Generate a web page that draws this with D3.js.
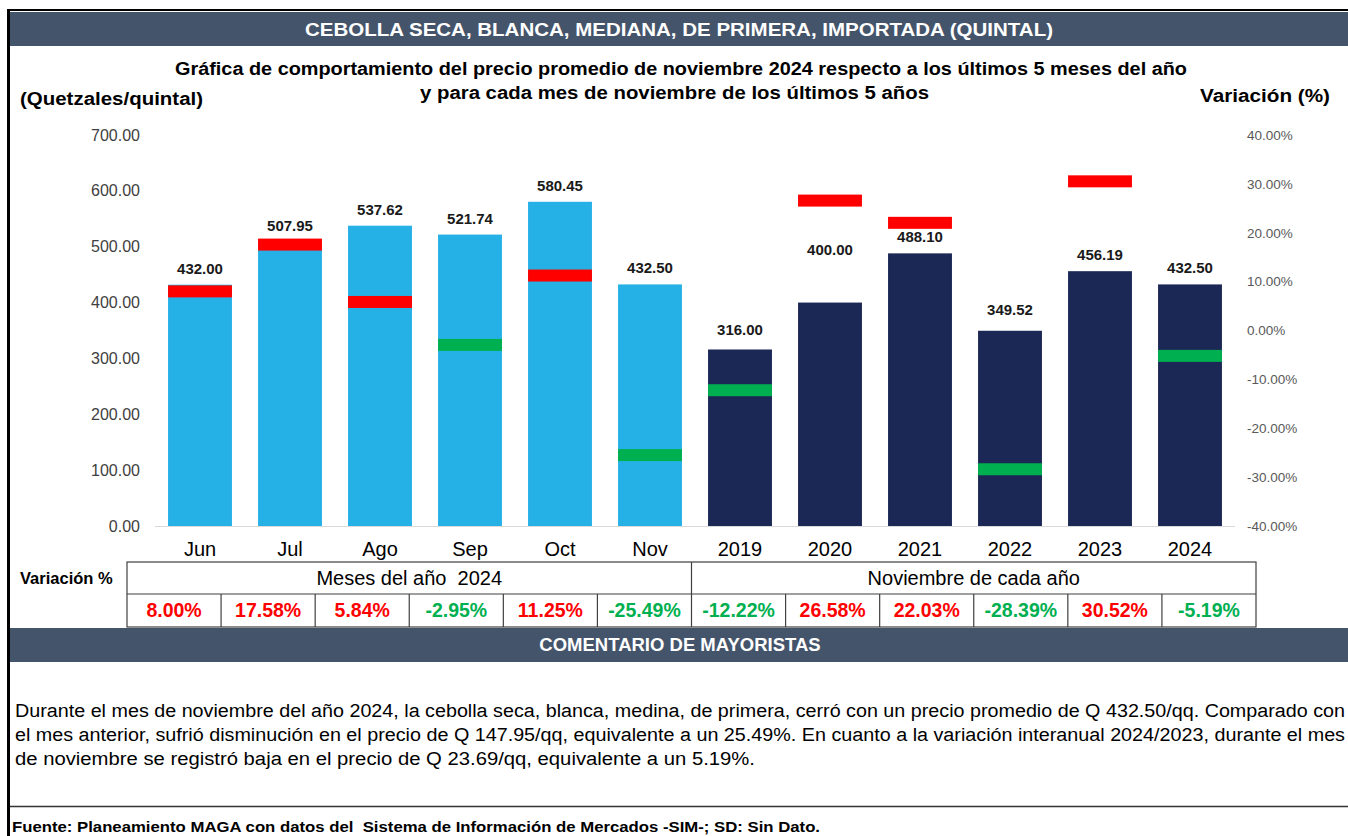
<!DOCTYPE html>
<html>
<head>
<meta charset="utf-8">
<style>
  body { margin: 0; background: #fff; }
  svg { display: block; font-family: "Liberation Sans", Arial, sans-serif; }
  svg text { white-space: pre; }
  .axis path, .axis line { display: none; }
</style>
<script src="https://cdn.jsdelivr.net/npm/d3@7"></script>
</head>
<body>
<svg id="chart" width="1348" height="836"></svg>
<script>
// datos
var categories = ["Jun", "Jul", "Ago", "Sep", "Oct", "Nov", "2019", "2020", "2021", "2022", "2023", "2024"];
var prices = [432.00, 507.95, 537.62, 521.74, 580.45, 432.50, 316.00, 400.00, 488.10, 349.52, 456.19, 432.50];
var variation = [8.00, 17.58, 5.84, -2.95, 11.25, -25.49, -12.22, 26.58, 22.03, -28.39, 30.52, -5.19];
var groups = ["Meses del año  2024", "Noviembre de cada año"];
var priceTicks = [0, 100, 200, 300, 400, 500, 600, 700];
var pctTicks = [-40, -30, -20, -10, 0, 10, 20, 30, 40];

var commentLines = [
  "Durante el mes de noviembre del año 2024, la cebolla seca, blanca, medina, de primera, cerró con un precio promedio de Q 432.50/qq. Comparado con",
  "el mes anterior, sufrió disminución en el precio de Q 147.95/qq, equivalente a un 25.49%. En cuanto a la variación interanual 2024/2023, durante el mes",
  "de noviembre se registró baja en el precio de Q 23.69/qq, equivalente a un 5.19%."
];
var commentWidths = [1330, 1330, 740];

var lightBlue = "#25B1E6", navy = "#1B2754", red = "#FF0000", green = "#00B050", slate = "#44546A";

var locale = d3.formatLocale({ decimal: ".", thousands: ",", grouping: [3], currency: ["", ""], minus: "-" });
var f2 = locale.format(".2f");

var svg = d3.select("#chart");

function fit(sel, w) {
  return sel.attr("textLength", w).attr("lengthAdjust", "spacingAndGlyphs");
}

// marco y bandas
svg.append("line").attr("x1", 8).attr("x2", 1348).attr("y1", 10).attr("y2", 10)
  .attr("stroke", "#000").attr("stroke-width", 2);
svg.append("line").attr("x1", 8.5).attr("x2", 8.5).attr("y1", 9).attr("y2", 836)
  .attr("stroke", "#000").attr("stroke-width", 3);

svg.append("rect").attr("x", 10).attr("y", 12).attr("width", 1338).attr("height", 34).attr("fill", slate);
fit(svg.append("text").attr("x", 679).attr("y", 36).attr("text-anchor", "middle")
  .attr("fill", "#fff").attr("font-weight", "bold").attr("font-size", 19)
  .text("CEBOLLA SECA, BLANCA, MEDIANA, DE PRIMERA, IMPORTADA (QUINTAL)"), 748);

fit(svg.append("text").attr("x", 681).attr("y", 75).attr("text-anchor", "middle")
  .attr("font-weight", "bold").attr("font-size", 18)
  .text("Gráfica de comportamiento del precio promedio de noviembre 2024 respecto a los últimos 5 meses del año"), 1012);
fit(svg.append("text").attr("x", 674.5).attr("y", 99).attr("text-anchor", "middle")
  .attr("font-weight", "bold").attr("font-size", 18)
  .text("y para cada mes de noviembre de los últimos 5 años"), 509);
fit(svg.append("text").attr("x", 20).attr("y", 105)
  .attr("font-weight", "bold").attr("font-size", 18).text("(Quetzales/quintal)"), 183);
fit(svg.append("text").attr("x", 1200).attr("y", 102)
  .attr("font-weight", "bold").attr("font-size", 18).text("Variación (%)"), 130);

// escalas
var x = d3.scaleBand().domain(categories).range([155, 1235]).paddingInner(0.29).paddingOuter(0.145);
var y = d3.scaleLinear().domain([0, 700]).range([526, 135]);
var y2 = d3.scaleLinear().domain([-40, 40]).range([526, 135]);

svg.append("g").attr("class", "axis").attr("transform", "translate(140,0)")
  .call(d3.axisLeft(y).tickValues(priceTicks).tickSize(0).tickPadding(0).tickFormat(f2))
  .selectAll("text").attr("font-size", 16).attr("fill", "#404040").attr("font-family", "Liberation Sans, Arial, sans-serif");

svg.append("g").attr("class", "axis").attr("transform", "translate(1247,0)")
  .call(d3.axisRight(y2).tickValues(pctTicks).tickSize(0).tickPadding(0)
    .tickFormat(function(d) { return f2(d) + "%"; }))
  .selectAll("text").attr("font-size", 13.5).attr("fill", "#595959").attr("font-family", "Liberation Sans, Arial, sans-serif");

// barras
svg.append("g").selectAll("rect").data(categories).join("rect")
  .attr("x", function(d) { return x(d); })
  .attr("y", function(d, i) { return y(prices[i]); })
  .attr("width", x.bandwidth())
  .attr("height", function(d, i) { return y(0) - y(prices[i]); })
  .attr("fill", function(d, i) { return i < 6 ? lightBlue : navy; });

svg.append("line").attr("x1", 155).attr("x2", 1235).attr("y1", 526.5).attr("y2", 526.5)
  .attr("stroke", "#D9D9D9").attr("stroke-width", 1);

// etiquetas de valor
var labelNudge = { "2019": 3, "2020": 37, "2022": 5 };
svg.append("g").selectAll("text").data(categories).join("text")
  .attr("x", function(d) { return x(d) + x.bandwidth() / 2; })
  .attr("y", function(d, i) { return y(prices[i]) - 11 - (labelNudge[d] || 0); })
  .attr("text-anchor", "middle").attr("font-weight", "bold").attr("font-size", 15)
  .attr("fill", "#1a1a1a")
  .text(function(d, i) { return f2(prices[i]); });

// marcadores de variación
svg.append("g").selectAll("rect").data(categories).join("rect")
  .attr("x", function(d) { return x(d); })
  .attr("y", function(d, i) { return y2(variation[i]) - 6; })
  .attr("width", x.bandwidth())
  .attr("height", 12)
  .attr("fill", function(d, i) { return variation[i] >= 0 ? red : green; });

// eje x
svg.append("g").attr("class", "axis").attr("transform", "translate(0,549)")
  .call(d3.axisBottom(x).tickSize(0).tickPadding(0))
  .selectAll("text").attr("font-size", 20).attr("fill", "#000").attr("dy", "0.35em")
  .attr("font-family", "Liberation Sans, Arial, sans-serif");

// tabla
var t = d3.scaleBand().domain(categories).range([127, 1256]);
var row1 = 562, row2 = 594, row3 = 627;
svg.append("text").attr("x", 20).attr("y", 584)
  .attr("font-weight", "bold").attr("font-size", 16.5).text("Variación %");

var tbl = svg.append("g").attr("stroke", "#404040").attr("stroke-width", 1.2).attr("fill", "none");
tbl.append("rect").attr("x", t.range()[0]).attr("y", row1).attr("width", t.range()[1] - t.range()[0]).attr("height", row3 - row1);
tbl.append("line").attr("x1", t.range()[0]).attr("x2", t.range()[1]).attr("y1", row2).attr("y2", row2);
tbl.selectAll("line.col").data(categories.slice(1)).join("line").attr("class", "col")
  .attr("x1", function(d) { return t(d); }).attr("x2", function(d) { return t(d); })
  .attr("y1", function(d) { return d === "2019" ? row1 : row2; }).attr("y2", row3);

svg.append("g").selectAll("text").data(groups).join("text")
  .attr("x", function(d, i) { return i === 0 ? (t("Jun") + t("2019")) / 2 : (t("2019") + t.range()[1]) / 2; })
  .attr("y", 585).attr("text-anchor", "middle").attr("font-size", 20).attr("fill", "#000")
  .text(function(d) { return d; });

svg.append("g").selectAll("text").data(categories).join("text")
  .attr("x", function(d) { return t(d) + t.bandwidth() / 2; })
  .attr("y", 617).attr("text-anchor", "middle").attr("font-size", 19.5).attr("font-weight", "bold")
  .attr("fill", function(d, i) { return variation[i] >= 0 ? red : green; })
  .text(function(d, i) { return f2(variation[i]) + "%"; });

// comentario
svg.append("rect").attr("x", 10).attr("y", 628).attr("width", 1338).attr("height", 34).attr("fill", slate);
svg.append("text").attr("x", 680).attr("y", 651).attr("text-anchor", "middle")
  .attr("fill", "#fff").attr("font-weight", "bold").attr("font-size", 18.5).text("COMENTARIO DE MAYORISTAS");

svg.append("g").selectAll("text").data(commentLines).join("text")
  .attr("x", 15).attr("y", function(d, i) { return 717 + i * 24; })
  .attr("font-size", 18).attr("fill", "#000")
  .attr("textLength", function(d, i) { return commentWidths[i]; })
  .attr("lengthAdjust", "spacingAndGlyphs")
  .text(function(d) { return d; });

svg.append("line").attr("x1", 10).attr("x2", 1348).attr("y1", 806.5).attr("y2", 806.5)
  .attr("stroke", "#333").attr("stroke-width", 1.5);
fit(svg.append("text").attr("x", 12).attr("y", 832)
  .attr("font-weight", "bold").attr("font-size", 15.5).attr("fill", "#000")
  .text("Fuente: Planeamiento MAGA con datos del  Sistema de Información de Mercados -SIM-; SD: Sin Dato."), 808);
</script>
</body>
</html>
